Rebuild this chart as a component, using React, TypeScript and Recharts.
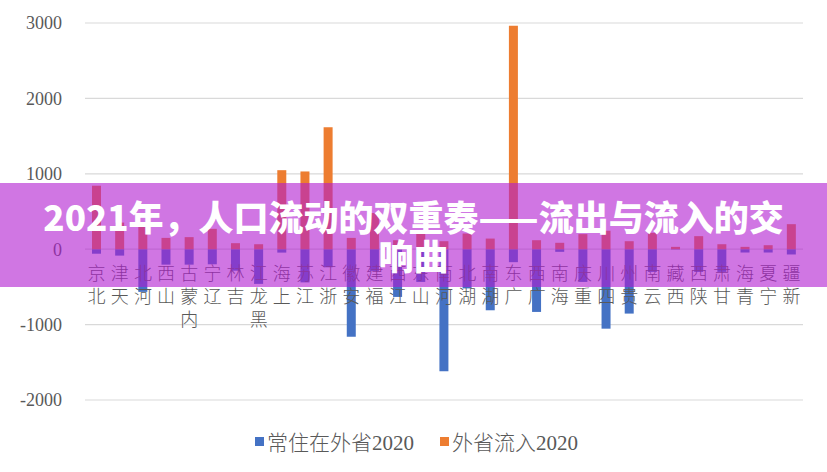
import { BarChart, Bar, XAxis, YAxis, CartesianGrid, Legend } from "recharts";

const provinces = [
  "北京", "天津", "河北", "山西", "内蒙古", "辽宁", "吉林", "黑龙江",
  "上海", "江苏", "浙江", "安徽", "福建", "江西", "山东", "河南",
  "湖北", "湖南", "广东", "广西", "海南", "重庆", "四川", "贵州",
  "云南", "西藏", "陕西", "甘肃", "青海", "宁夏", "新疆",
];

// 常住在外省2020 (shown below zero)
const outflow = [
  -60, -85, -566, -205, -205, -200, -285, -460,
  -45, -440, -240, -1160, -288, -633, -434, -1620,
  -520, -810, -172, -832, -35, -434, -1054, -854,
  -301, -5, -301, -301, -44, -44, -70,
];

// 外省流入2020
const inflow = [
  842, 353, 296, 150, 160, 270, 80, 66,
  1048, 1031, 1619, 150, 480, 119, 239, 106,
  208, 141, 2962, 119, 85, 200, 245, 106,
  217, 31, 173, 66, 31, 53, 332,
];

const yTicks = [-2000, -1000, 0, 1000, 2000, 3000];
const seriesNames = ["常住在外省2020", "外省流入2020"];
const titleLines = ["2021年，人口流动的双重奏——流出与流入的交", "响曲"];

const data = provinces.map((name, i) => ({
  name,
  out: outflow[i],
  in: inflow[i],
}));

const W = 827;
const H = 472;
const MARGIN = { top: 23, right: 24, left: 0, bottom: 16 };
const PLOT_BOTTOM = 400;
const Y_MIN = -2000;
const Y_MAX = 3000;
// pixel row of the zero line, where the category labels hang from
const zeroY =
  MARGIN.top + ((PLOT_BOTTOM - MARGIN.top) * Y_MAX) / (Y_MAX - Y_MIN);

const textGray = "#595959";

function CategoryTick(props: any) {
  const { x, payload } = props;
  // characters read bottom-to-top, top-aligned under the zero line
  const chars = Array.from(String(payload.value)).reverse();
  return (
    <g>
      {chars.map((c, i) => (
        <text
          key={i}
          x={x}
          y={zeroY + 31 + i * 23}
          textAnchor="middle"
          fontSize={18}
          fontWeight={300}
          fontFamily="'Noto Sans CJK SC', sans-serif"
          fill={textGray}
        >
          {c}
        </text>
      ))}
    </g>
  );
}

function LegendContent(props: any) {
  const items = [...(props.payload || [])].sort(
    (a: any, b: any) => seriesNames.indexOf(a.value) - seriesNames.indexOf(b.value)
  );
  return (
    <div
      style={{
        display: "flex",
        justifyContent: "center",
        alignItems: "center",
        gap: 26,
        paddingTop: 14,
        paddingLeft: 30,
        height: 30,
      }}
    >
      {items.map((p: any) => (
        <div key={p.value} style={{ display: "flex", alignItems: "center" }}>
          <span
            style={{
              width: 9,
              height: 9,
              background: p.color,
              display: "inline-block",
              marginRight: 3,
            }}
          />
          <span
            style={{
              fontSize: 21,
              color: textGray,
              fontFamily: "'Liberation Serif', 'Noto Sans CJK SC', serif",
              fontWeight: 300,
            }}
          >
            {p.value}
          </span>
        </div>
      ))}
    </div>
  );
}

export default function App() {
  return (
    <div
      style={{
        position: "absolute",
        left: 0,
        top: 0,
        width: W,
        height: H,
        background: "#ffffff",
        overflow: "hidden",
      }}
    >
      <BarChart
        width={W}
        height={H}
        data={data}
        margin={MARGIN}
        stackOffset="sign"
        barSize={9}
      >
        <CartesianGrid vertical={false} stroke="#d9d9d9" strokeWidth={1.2} />
        <XAxis
          dataKey="name"
          axisLine={false}
          tickLine={false}
          height={12}
          interval={0}
          tick={<CategoryTick />}
        />
        <YAxis
          width={85}
          domain={[Y_MIN, Y_MAX]}
          ticks={yTicks}
          axisLine={false}
          tickLine={false}
          tickSize={0}
          tickMargin={23}
          tick={{
            fontSize: 18,
            fill: textGray,
            fontFamily: "'Liberation Serif', serif",
          }}
        />
        <Legend verticalAlign="bottom" content={<LegendContent />} />
        <Bar
          dataKey="out"
          name={seriesNames[0]}
          stackId="a"
          fill="#4472C4"
          isAnimationActive={false}
        />
        <Bar
          dataKey="in"
          name={seriesNames[1]}
          stackId="a"
          fill="#ED7D31"
          isAnimationActive={false}
        />
      </BarChart>
      <div
        style={{
          position: "absolute",
          left: 0,
          top: 183,
          width: W,
          height: 104,
          background: "rgba(176, 26, 208, 0.6)",
          color: "#ffffff",
          fontFamily: "'Noto Sans CJK SC', sans-serif",
          fontWeight: 900,
          fontSize: 35,
          lineHeight: "39px",
          textAlign: "center",
          paddingTop: 13,
          boxSizing: "border-box",
          pointerEvents: "none",
        }}
      >
        {titleLines.map((l) => (
          <div key={l}>{l}</div>
        ))}
      </div>
    </div>
  );
}
